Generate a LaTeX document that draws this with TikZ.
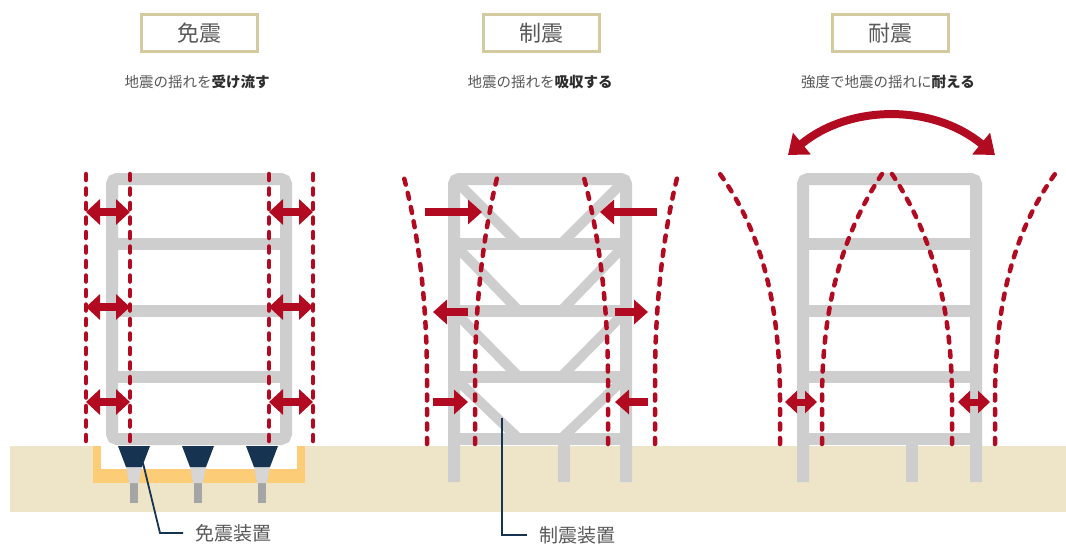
\documentclass[tikz,border=0pt]{standalone}
\usepackage{fontspec}
\setmainfont{Noto Sans CJK JP}
\usetikzlibrary{arrows.meta}

\definecolor{quake}{RGB}{178,10,32}
\definecolor{steel}{RGB}{206,206,206}
\definecolor{soil}{RGB}{238,228,200}
\definecolor{pit}{RGB}{252,204,118}
\definecolor{navy}{RGB}{22,52,82}
\definecolor{pinlight}{RGB}{214,214,214}
\definecolor{pindark}{RGB}{165,165,165}
\definecolor{khaki}{RGB}{212,202,160}
\definecolor{ink}{RGB}{88,88,88}
\definecolor{inkdark}{RGB}{45,45,45}

\newcommand\keyword[1]{{\bfseries\color{inkdark}#1}}

\tikzset{
  beam/.style={draw=steel, line width=12pt, line cap=butt},
  brace/.style={draw=steel, line width=10pt},
  wave/.style={draw=quake, line width=4.5pt, line cap=round, dash pattern=on 6pt off 8.5pt},
  twoway/.style={draw=quake, line width=8pt,
    {Triangle[length=14pt,width=25pt]}-{Triangle[length=14pt,width=25pt]}},
  twowaysmall/.style={draw=quake, line width=7pt,
    {Triangle[length=12pt,width=22pt]}-{Triangle[length=12pt,width=22pt]}},
  oneway/.style={draw=quake, line width=7.5pt, -{Triangle[length=14pt,width=24pt]}},
  swing/.style={draw=quake, line width=8pt,
    {Triangle[length=18pt,width=27pt]}-{Triangle[length=18pt,width=27pt]}},
  titlebox/.style={draw=khaki, line width=3pt, fill=white, minimum width=116pt,
    minimum height=37pt, text=ink, font=\fontsize{22}{22}\selectfont},
  subtitle/.style={text=ink, font=\fontsize{14.5}{15}\selectfont},
  caption/.style={anchor=west, inner xsep=12pt, inner ysep=0pt, text=ink,
    font=\fontsize{19}{19}\selectfont},
  leader/.style={draw=navy, line width=1.8pt},
}

\begin{document}
\begin{tikzpicture}[x=1pt,y=-1pt]
\useasboundingbox (0,0) rectangle (1066,547);
\fill[white] (0,0) rectangle (1066,547);

% ground
\fill[soil] (10,446) rectangle (1066,512);

% ---------- seismic isolation ----------
% isolation pit
\fill[pit] (93,446) rectangle (305,483);
\fill[white] (101,446) rectangle (297,469);
% frame
\draw[beam, rounded corners=5pt] (112,179) rectangle (286,439);
\foreach \y in {244,311,377} \draw[beam] (112,\y) -- (286,\y);
% isolators
\foreach \x in {134,198,262} {
  \fill[pindark] ({\x-4},482) rectangle ({\x+4},503);
  \fill[pinlight] ({\x-8},466) -- ({\x+8},466) -- ({\x+5},483) -- ({\x-5},483) -- cycle;
  \fill[navy] ({\x-16},446) -- ({\x+16},446) -- ({\x+8},467) -- ({\x-8},467) -- cycle;
}
% sway lines
\foreach \x in {86,130,269,313} \draw[wave] (\x,174) -- (\x,444);
\foreach \y in {212,307,402} {
  \draw[twoway] (86,\y) -- (130,\y);
  \draw[twoway] (269,\y) -- (313,\y);
}

% ---------- vibration control ----------
\draw[beam, rounded corners=5pt] (454,482) -- (454,179) -- (626,179) -- (626,482);
\foreach \y in {244,311,377,439} \draw[beam] (454,\y) -- (626,\y);
\draw[beam] (564,439) -- (564,482);
\foreach \t/\b in {179/244,244/311,311/377,377/439} {
  \draw[brace] (454,\t) -- (519,\b);
  \draw[brace] (626,\t) -- (561,\b);
}
\draw[wave] (427,444) -- (427,380) .. controls (427,300) and (418,230) .. (403,174);
\draw[wave] (475,444) -- (475,380) .. controls (475,300) and (484,230) .. (498,174);
\draw[wave] (608,444) -- (608,380) .. controls (608,300) and (598,230) .. (583,174);
\draw[wave] (655,444) -- (655,380) .. controls (655,300) and (664,230) .. (678,174);
\draw[oneway] (425,212) -- (482,212);
\draw[oneway] (657,212) -- (600,212);
\draw[oneway] (468,312) -- (433,312);
\draw[oneway] (615,312) -- (648,312);
\draw[oneway] (433,402) -- (468,402);
\draw[oneway] (648,402) -- (615,402);

% ---------- earthquake resistance ----------
\draw[beam, rounded corners=5pt] (803,482) -- (803,179) -- (976,179) -- (976,482);
\foreach \y in {244,311,377,439} \draw[beam] (803,\y) -- (976,\y);
\draw[beam] (912,439) -- (912,482);
\draw[wave] (780,444) -- (780,400) .. controls (780,300) and (760,230) .. (720,174);
\draw[wave] (822,444) -- (822,400) .. controls (822,300) and (845,230) .. (882,174);
\draw[wave] (952,444) -- (952,400) .. controls (952,300) and (929,230) .. (892,174);
\draw[wave] (995,444) -- (995,400) .. controls (995,300) and (1015,230) .. (1055,174);
\draw[twowaysmall] (785,402) -- (817,402);
\draw[twowaysmall] (958,402) -- (990,402);
\draw[swing] (788,155) .. controls (850,104) and (933,104) .. (995,155);

% ---------- headings ----------
\node[titlebox] (t1) at (199,33) {免震};
\node[titlebox] (t2) at (541,33) {制震};
\node[titlebox] (t3) at (890,33) {耐震};
\node[subtitle] (s1) at (197,82) {地震の揺れを\keyword{受け流す}};
\node[subtitle] (s2) at (540,82) {地震の揺れを\keyword{吸収する}};
\node[subtitle] (s3) at (888,82) {強度で地震の揺れに\keyword{耐える}};

% ---------- device callouts ----------
\coordinate (iso) at (143,463);
\coordinate (isobend) at (160,533);
\node[caption] (c1) at (183,533) {免震装置};
\draw[leader] (iso) -- (isobend) -- (c1.west);

\coordinate (damper) at (502,418);
\node[caption] (c2) at (527,535) {制震装置};
\draw[leader] (damper) |- (c2.west);
\end{tikzpicture}
\end{document}
